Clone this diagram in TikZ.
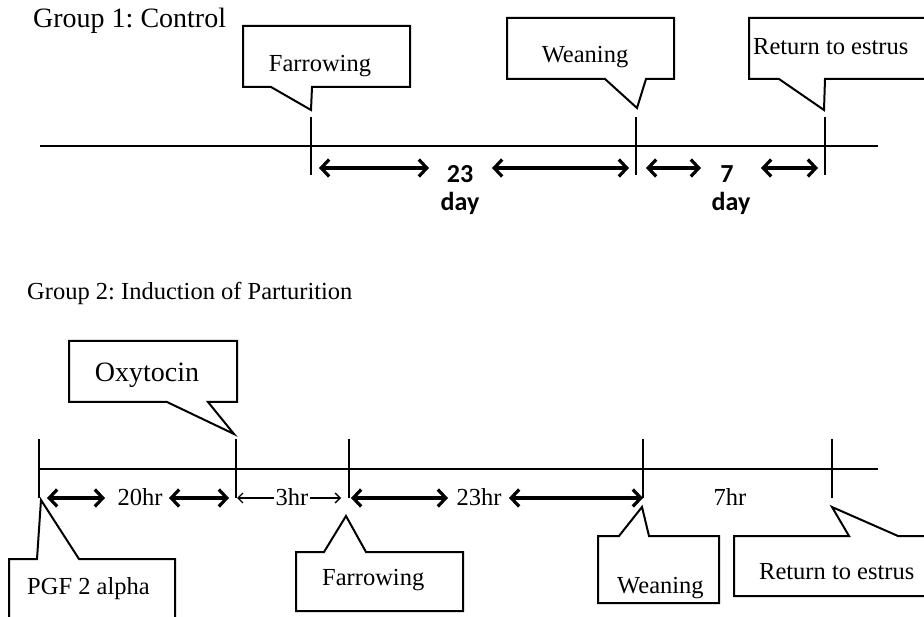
\documentclass[tikz,border=0pt]{standalone}
\usepackage{fontspec}
\setmainfont{Liberation Serif}
\newfontfamily\calib{Carlito}
\usetikzlibrary{arrows.meta}
\frenchspacing
\begin{document}
\begin{tikzpicture}[x=1pt,y=-1pt,
  lbl/.style={inner sep=0pt,font=\fontsize{24.5}{28}\selectfont},
  biglbl/.style={inner sep=0pt,font=\fontsize{28}{32}\selectfont},
  boldlbl/.style={inner sep=0pt,font=\calib\bfseries\fontsize{26}{30}\selectfont},
  callout/.style={line width=2pt,line join=miter},
  tline/.style={line width=2pt},
  tick/.style={line width=2pt},
  thick arr/.style={line width=3.2pt,{Straight Barb[length=8pt,width=17pt]}-{Straight Barb[length=8pt,width=17pt]}},
  thin arr/.style={line width=1.4pt,-{Straight Barb[length=5pt,width=10pt]}}]
\useasboundingbox (0,0) rectangle (924,617);
\clip (0,0) rectangle (924,617);

% ---------------- Group 1 ----------------
\node[biglbl,anchor=base west] (g1) at (33,28) {Group 1: Control};

\draw[tline] (40,146) coordinate (l1s) -- (878,146) coordinate (l1e);
\draw[tick] (311,117) coordinate (f1t) -- (311,175) coordinate (f1b);
\draw[tick] (636,117) coordinate (w1t) -- (636,175) coordinate (w1b);
\draw[tick] (825,117) coordinate (r1t) -- (825,175) coordinate (r1b);

\draw[callout] (243,26) -- (410,26) -- (410,87) -- (312,87) -- (311,110) -- (271,87) -- (243,87) -- cycle;
\node[lbl,anchor=base] (farr1) at (320,72) {Farrowing};
\draw[callout] (507,18) -- (674,18) -- (674,79) -- (646,79) -- (637,108) -- (605,79) -- (507,79) -- cycle;
\node[lbl,anchor=base] (wean1) at (585,63) {Weaning};
\draw[callout] (749,18) -- (940,18) -- (940,79) -- (825,79) -- (824,110) -- (779,79) -- (749,79) -- cycle;
\node[lbl,anchor=base west] (ret1) at (753,55) {Return to estrus};

\node[boldlbl,anchor=base] (n23) at (460,183) {23};
\node[boldlbl,anchor=base] (d23) at (460,211) {day};
\node[boldlbl,anchor=base] (n7) at (727,183) {7};
\node[boldlbl,anchor=base] (d7) at (731,211) {day};

\coordinate (a1) at (319,168); \coordinate (a2) at (429,168);
\coordinate (a3) at (492,168); \coordinate (a4) at (629,168);
\coordinate (a5) at (646,168); \coordinate (a6) at (701,168);
\coordinate (a7) at (761,168); \coordinate (a8) at (818,168);
\draw[thick arr] (a1) -- (a2);
\draw[thick arr] (a3) -- (a4);
\draw[thick arr] (a5) -- (a6);
\draw[thick arr] (a7) -- (a8);

% ---------------- Group 2 ----------------
\node[lbl,anchor=base west] (g2) at (27,300) {Group 2: Induction of Parturition};

\draw[tline] (39,469) coordinate (l2s) -- (878,469) coordinate (l2e);
\draw[tick] (39,439) coordinate (p2t) -- (39,498) coordinate (p2b);
\draw[tick] (236,439) coordinate (o2t) -- (236,498) coordinate (o2b);
\draw[tick] (349,439) coordinate (f2t) -- (349,498) coordinate (f2b);
\draw[tick] (643,439) coordinate (w2t) -- (643,498) coordinate (w2b);
\draw[tick] (832,439) coordinate (r2t) -- (832,498) coordinate (r2b);

\draw[callout] (69,341) -- (237,341) -- (237,402) -- (208,402) -- (234,434) -- (167,402) -- (69,402) -- cycle;
\node[biglbl,anchor=base] (oxy) at (147,382) {Oxytocin};

\draw[callout] (9,640) -- (9,559) -- (37,559) -- (41,500) -- (79,559) -- (175,559) -- (175,640);
\node[lbl,anchor=base west] (pgf) at (27,594) {PGF 2 alpha};

\draw[callout] (296,552) -- (324,552) -- (346,516) -- (366,552) -- (463,552) -- (463,611) -- (296,611) -- cycle;
\node[lbl,anchor=base west] (farr2) at (322,585) {Farrowing};

\draw[callout] (598,536) -- (619,536) -- (642,507) -- (649,536) -- (719,536) -- (719,603) -- (598,603) -- cycle;
\node[lbl,anchor=base west] (wean2) at (617,593) {Weaning};

\draw[callout] (734,536) -- (849,536) -- (832,507) -- (898,536) -- (940,536) -- (940,596) -- (734,596) -- cycle;
\node[lbl,anchor=base west] (ret2) at (759,579) {Return to estrus};

\node[lbl,anchor=base] (h20) at (140,505) {20hr};
\node[lbl,anchor=base] (h3) at (292,505) {3hr};
\node[lbl,anchor=base] (h23) at (479,505) {23hr};
\node[lbl,anchor=base] (h7) at (730,505) {7hr};

\coordinate (b1) at (47,498); \coordinate (b2) at (105,498);
\coordinate (b3) at (169,498); \coordinate (b4) at (229,498);
\coordinate (b5) at (351,498); \coordinate (b6) at (448,498);
\coordinate (b7) at (509,498); \coordinate (b8) at (643,498);
\draw[thick arr] (b1) -- (b2);
\draw[thick arr] (b3) -- (b4);
\draw[thick arr] (b5) -- (b6);
\draw[thick arr] (b7) -- (b8);
\draw[thin arr] (h3.west |- 0,498) ++(-1,0) -- (237,498);
\draw[thin arr] (h3.east |- 0,498) ++(1,0) -- (341,498);
\end{tikzpicture}
\end{document}
